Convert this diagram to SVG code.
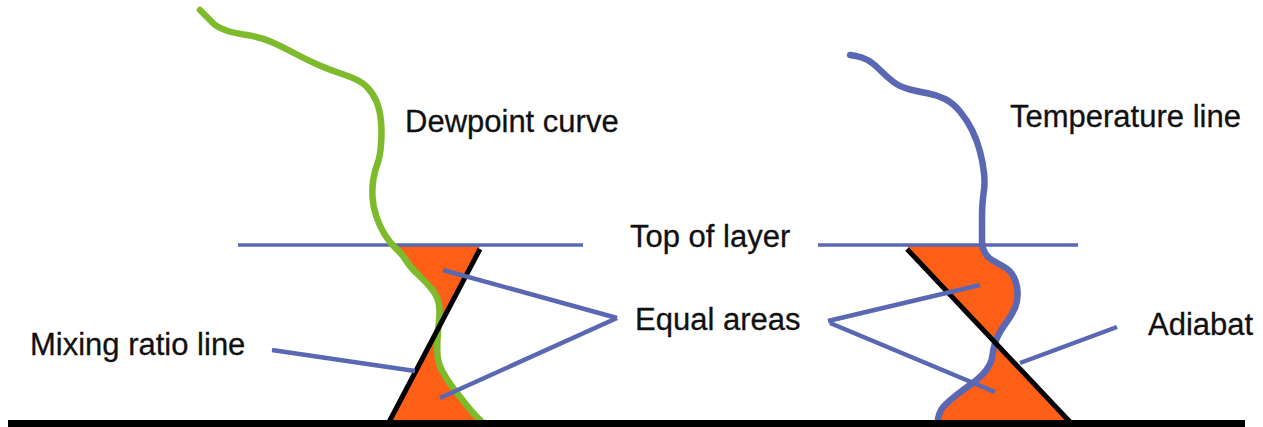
<svg xmlns="http://www.w3.org/2000/svg" width="1263" height="427" viewBox="0 0 1263 427">
<style>
.fill{fill:#fe5f17;stroke:none}
.curve{fill:none;stroke-linejoin:round;stroke-linecap:round;stroke-width:6.5}
.green{stroke:#7dbb2c}
.blue{stroke:#5a68b3}
.layer{stroke:#5a68b3;stroke-width:3.5;fill:none}
.black{stroke:#000;stroke-width:5;fill:none;stroke-linecap:butt}
.lead{stroke:#5a68b3;stroke-width:4.5;fill:none;stroke-linecap:butt}
.lbl{font-family:"Liberation Sans",Arial,sans-serif;font-size:31px;fill:#111;stroke:#111;stroke-width:0.3}
</style>
<rect width="1263" height="427" fill="#fff"/>
<g id="equal-area-fills">
<polygon class="fill" points="392,246 480,246 438,330 440,313 438,297 427,283 410,267 403,255"/>
<polygon class="fill" points="438,330 437,347 438,363 447,380 460,397 473,413 480,422 388,422"/>
<polygon class="fill" points="907,246 982,246 987,257 997,263 1010,270 1017,283 1018,300 1013,313 1003,327 997,337 995,343"/>
<polygon class="fill" points="995,343 993,350 992,360 987,370 977,380 963,390 950,400 940,410 937,422 1070,422"/>
</g>
<g id="top-of-layer">
<line class="layer" x1="238" y1="245" x2="583" y2="245"/>
<line class="layer" x1="818" y1="245" x2="1078" y2="245"/>
<text class="lbl" x="630" y="247">Top of layer</text>
</g>
<g id="dewpoint-curve">
<path class="curve green" d="M200,10 L205,15 Q210,20 213.5,23.5 Q217,27 225,30 Q233,33 246.5,35 Q260,37 271.5,42 Q283,47 295,53.5 Q307,60 318.5,65 Q330,70 345,75 Q360,80 366.5,86.5 Q373,93 376.5,101.5 Q380,110 381,121.5 Q382,133 381,145 Q380,157 377.5,163.5 Q375,170 373.5,178.5 Q372,187 372.5,197 Q373,207 376.5,217 Q380,227 385,235 Q390,243 396.5,249 Q403,255 406.5,261 Q410,267 418.5,275 Q427,283 432.5,290 Q438,297 439,305 Q440,313 439,321.5 Q438,330 437.5,338.5 Q437,347 437.5,355 Q438,363 442.5,371.5 Q447,380 453.5,388.5 Q460,397 466.5,405 Q473,413 477.5,417.5 Q482,422 486,426 L490,430"/>
<text class="lbl" x="405" y="132">Dewpoint curve</text>
</g>
<g id="temperature-line">
<path class="curve blue" d="M850,55 L856,56 Q862,57 867.5,60 Q873,63 880,70 Q887,77 893.5,82 Q900,87 910,89.5 Q920,92 928.5,93.5 Q937,95 945,99 Q953,103 960,111.5 Q967,120 972,130 Q977,140 980,151.5 Q983,163 984,173 Q985,183 984,190 Q983,197 982.5,203.5 Q982,210 982,220 L982,240 Q982,247 984.5,252 Q987,257 992,260 Q997,263 1003.5,266.5 Q1010,270 1013.5,276.5 Q1017,283 1017.5,291.5 Q1018,300 1015.5,306.5 Q1013,313 1008,320 Q1003,327 1000,332 Q997,337 995,343.5 Q993,350 992.5,355 Q992,360 989.5,365 Q987,370 982,375 Q977,380 970,385 Q963,390 956.5,395 Q950,400 945,405 Q940,410 938.5,417 L937,424"/>
<text class="lbl" x="1010" y="127">Temperature line</text>
</g>
<g id="mixing-ratio-line">
<line class="black" x1="480" y1="249" x2="388" y2="424"/>
<text class="lbl" x="30" y="355">Mixing ratio line</text>
</g>
<g id="adiabat">
<line class="black" x1="907" y1="249" x2="1070" y2="422"/>
<text class="lbl" x="1148" y="335">Adiabat</text>
</g>
<g id="equal-areas">
<text class="lbl" x="635" y="330">Equal areas</text>
</g>
<g id="connectors">
<line class="lead" x1="617" y1="318" x2="443" y2="270"/>
<line class="lead" x1="617" y1="318" x2="440" y2="398"/>
<line class="lead" x1="828" y1="321" x2="980" y2="285"/>
<line class="lead" x1="830" y1="323" x2="995" y2="392"/>
<line class="lead" x1="272" y1="350" x2="415" y2="371"/>
<line class="lead" x1="1117" y1="327" x2="1020" y2="363"/>
</g>
<g id="ground">
<rect x="8" y="420" width="1237" height="7" fill="#000"/>
</g>
</svg>
